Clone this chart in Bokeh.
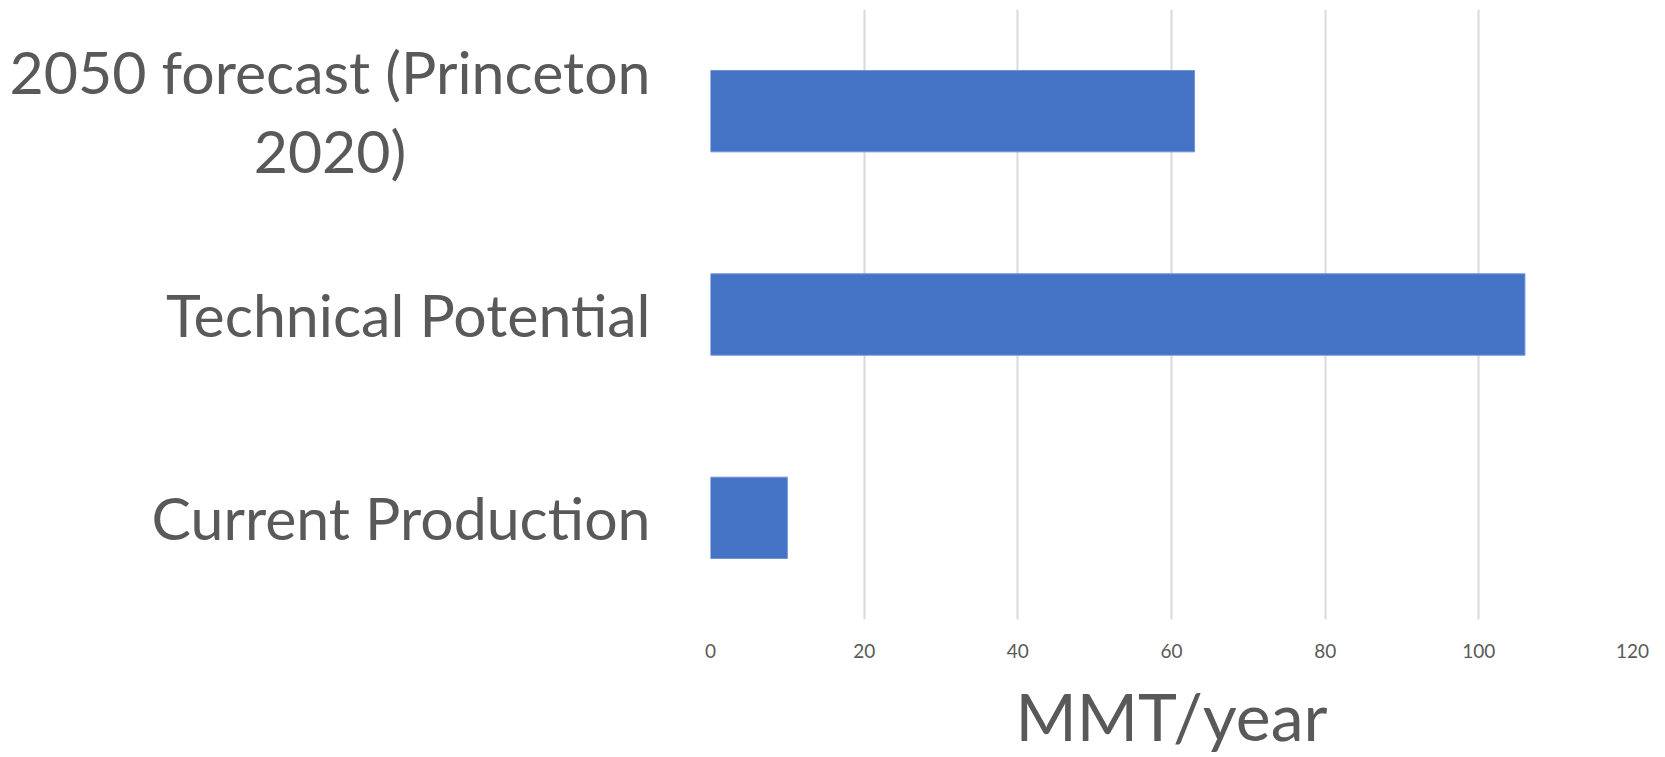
from bokeh.plotting import figure
from bokeh.layouts import row
from bokeh.models import FactorRange, Range1d, FixedTicker, ColumnDataSource
from bokeh.core.properties import value
from bokeh.embed import file_html
from bokeh.resources import INLINE

categories = ["Current Production", "Technical Potential", "2050 forecast (Princeton\n2020)"]
values = [10, 106, 63]
x_ticks = [0, 20, 40, 60, 80, 100, 120]
x_label = "MMT/year"

FONT = "Lato"
TEXT = "#595959"
LEFT = 710          # screen x where the plotting frame starts
PAD = 24            # room kept left of the frame for the "0" tick label
LAB_W = LEFT - PAD  # width of the category-label panel
STANDOFF = 60
TOP, BOTTOM = 9, 138

src = ColumnDataSource(dict(cat=categories, val=values))
y_range = FactorRange(factors=categories, range_padding=0)

# left panel: category labels (right-anchored blocks, lines centred)
lab = figure(width=LAB_W, height=757, output_backend="svg", toolbar_location=None,
             x_range=Range1d(0, LAB_W), y_range=y_range,
             x_axis_location=None, y_axis_location=None,
             min_border_left=0, min_border_right=0,
             min_border_top=TOP, min_border_bottom=BOTTOM)
lab.outline_line_color = None
lab.grid.visible = False
lab.text(x=LEFT - STANDOFF, y="cat", text="cat", source=src,
         anchor="center_right", text_align="center", text_baseline="middle",
         text_font=value(FONT), text_font_size="59px", text_color=TEXT,
         text_line_height=1.12)

# main panel: bars
p = figure(width=1665 - LAB_W, height=757, output_backend="svg", toolbar_location=None,
           y_range=y_range, x_range=Range1d(0, 120), y_axis_location=None,
           min_border_left=PAD, min_border_right=33,
           min_border_top=TOP, min_border_bottom=BOTTOM)
p.hbar(y="cat", right="val", left=0, height=0.4, source=src,
       fill_color="#4472c4", line_color="#6f93d6", line_width=1)

p.outline_line_color = None
p.ygrid.grid_line_color = None
p.xgrid.grid_line_color = "#d9d9d9"
p.xgrid.grid_line_width = 2

p.xaxis.ticker = FixedTicker(ticks=x_ticks)
p.xaxis.axis_line_color = None
p.xaxis.major_tick_line_color = None
p.xaxis.minor_tick_line_color = None
p.xaxis.major_label_text_font = FONT
p.xaxis.major_label_text_font_size = "19px"
p.xaxis.major_label_text_color = TEXT
p.xaxis.major_label_standoff = 18
p.xaxis.axis_label = x_label
p.xaxis.axis_label_text_font = FONT
p.xaxis.axis_label_text_font_style = "normal"
p.xaxis.axis_label_text_font_size = "66px"
p.xaxis.axis_label_text_color = TEXT
p.xaxis.axis_label_standoff = 15

layout = row(lab, p, spacing=0)
open("out.html", "w").write(file_html(layout, INLINE))
